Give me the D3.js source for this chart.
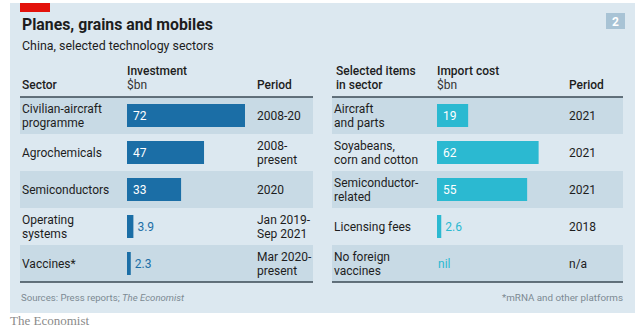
<!DOCTYPE html>
<html>
<head>
<meta charset="utf-8">
<script src="https://cdn.jsdelivr.net/npm/d3@7"></script>
<style>
  body { margin: 0; background: #fff; }
  svg { display: block; font-family: Roboto, "Noto Sans", sans-serif; }
</style>
</head>
<body>
<div id="root"></div>
<script>
// left table
const sectors = ["Civilian-aircraft\nprogramme", "Agrochemicals", "Semiconductors", "Operating\nsystems", "Vaccines*"];
const investment = [72, 47, 33, 3.9, 2.3];
const investPeriods = ["2008-20", "2008-\npresent", "2020", "Jan 2019-\nSep 2021", "Mar 2020-\npresent"];

// right table
const items = ["Aircraft\nand parts", "Soyabeans,\ncorn and cotton", "Semiconductor-\nrelated", "Licensing fees", "No foreign\nvaccines"];
const importCost = [19, 62, 55, 2.6, null];
const importPeriods = ["2021", "2021", "2021", "2018", "n/a"];

const w = 640, h = 335;
const bg = "#dce8f0", shade = "#c8dae5", ink = "#1d1d1d", rule = "#3b4a55";
const blue = "#1b6ea6", cyan = "#2bb9d1";

const svg = d3.select("#root").append("svg")
  .attr("width", w).attr("height", h);

svg.append("rect").attr("x", 10).attr("y", 3).attr("width", 625).attr("height", 310).attr("fill", bg);
svg.append("rect").attr("x", 20).attr("y", 3).attr("width", 30).attr("height", 9).attr("fill", "#e3120b");

svg.append("text").attr("x", 22).attr("y", 30)
  .attr("font-size", 15.8).attr("font-weight", 700).attr("fill", ink)
  .text("Planes, grains and mobiles");
svg.append("text").attr("x", 22).attr("y", 50)
  .attr("font-size", 12.4).attr("fill", ink)
  .text("China, selected technology sectors");

// page number box
svg.append("rect").attr("x", 606).attr("y", 13).attr("width", 19).attr("height", 16).attr("fill", "#a8c3d5");
svg.append("text").attr("x", 615.5).attr("y", 26).attr("text-anchor", "middle")
  .attr("font-size", 12).attr("font-weight", 700).attr("fill", "#fff").text("2");

const y = d3.scaleBand().domain(d3.range(5)).range([97, 282]);
const x = d3.scaleLinear().domain([0, 72]).range([0, 118]);

function multiline(sel, str, cx, cy, opts) {
  const lines = str.split("\n");
  const lh = 14;
  const t = sel.append("text")
    .attr("x", cx)
    .attr("font-size", opts.size || 12)
    .attr("fill", opts.fill || ink);
  lines.forEach((l, i) => {
    t.append("tspan").attr("x", cx)
      .attr("y", cy + (i - (lines.length - 1) / 2) * lh + 4.3)
      .text(l);
  });
  return t;
}

function table(cfg) {
  const g = svg.append("g");
  // shaded rows
  g.selectAll("rect.row").data(d3.range(5).filter(i => i % 2 === 0)).enter()
    .append("rect").attr("class", "row")
    .attr("x", cfg.x0).attr("width", cfg.x1 - cfg.x0)
    .attr("y", i => y(i)).attr("height", y.bandwidth())
    .attr("fill", shade);

  // headers
  cfg.headers.forEach(hd => {
    hd.lines.forEach((l, i) => {
      const isUnit = i === hd.lines.length - 1 && hd.unit;
      g.append("text").attr("x", hd.x)
        .attr("y", 89 - (hd.lines.length - 1 - i) * 14)
        .attr("font-size", 12)
        .attr("fill", isUnit ? "#333" : ink)
        .attr("font-weight", isUnit ? 400 : 500)
        .text(l);
    });
  });

  g.append("line").attr("x1", cfg.x0).attr("x2", cfg.x1).attr("y1", 97).attr("y2", 97)
    .attr("stroke", rule).attr("stroke-width", 1.5);
  g.append("line").attr("x1", cfg.x0).attr("x2", cfg.x1).attr("y1", 282).attr("y2", 282)
    .attr("stroke", rule).attr("stroke-width", 1.5);

  cfg.labels.forEach((d, i) => {
    multiline(g, d, cfg.x0 + 2, y(i) + y.bandwidth() / 2, {});
    multiline(g, cfg.periods[i], cfg.periodX, y(i) + y.bandwidth() / 2, {});
  });

  const bx = cfg.barX;
  cfg.values.forEach((v, i) => {
    const cy = y(i) + y.bandwidth() / 2;
    if (v === null) {
      g.append("text").attr("x", bx + 1).attr("y", cy + 4.3)
        .attr("font-size", 12).attr("fill", cfg.color).text("nil");
      return;
    }
    const bw = x(v);
    g.append("rect").attr("x", bx).attr("y", cy - 11.5)
      .attr("width", bw).attr("height", 23).attr("fill", cfg.color);
    const inside = bw > 20;
    g.append("text")
      .attr("x", inside ? bx + 6 : bx + bw + 4)
      .attr("y", cy + 4.3)
      .attr("font-size", 12)
      .attr("fill", inside ? "#fff" : cfg.color)
      .text(v);
  });
}

table({
  x0: 20, x1: 313, barX: 127, periodX: 257, color: blue,
  labels: sectors, values: investment, periods: investPeriods,
  headers: [
    { x: 22, lines: ["Sector"] },
    { x: 127, lines: ["Investment", "$bn"], unit: true },
    { x: 257, lines: ["Period"] }
  ]
});

table({
  x0: 332, x1: 623, barX: 437, periodX: 569, color: cyan,
  labels: items, values: importCost, periods: importPeriods,
  headers: [
    { x: 336, lines: ["Selected items", "in sector"] },
    { x: 437, lines: ["Import cost", "$bn"], unit: true },
    { x: 569, lines: ["Period"] }
  ]
});

// footer
const src = svg.append("text").attr("x", 21).attr("y", 301)
  .attr("font-size", 9.6).attr("fill", "#7d8a93");
src.append("tspan").text("Sources: Press reports; ");
src.append("tspan").attr("font-style", "italic").text("The Economist");

svg.append("text").attr("x", 623).attr("y", 301).attr("text-anchor", "end")
  .attr("font-size", 9.8).attr("fill", "#7d8a93").text("*mRNA and other platforms");

svg.append("text").attr("x", 10).attr("y", 325)
  .attr("font-family", "'Liberation Serif', 'DejaVu Serif', serif")
  .attr("font-size", 13).attr("fill", "#8a8a8a").text("The Economist");
</script>
</body>
</html>
